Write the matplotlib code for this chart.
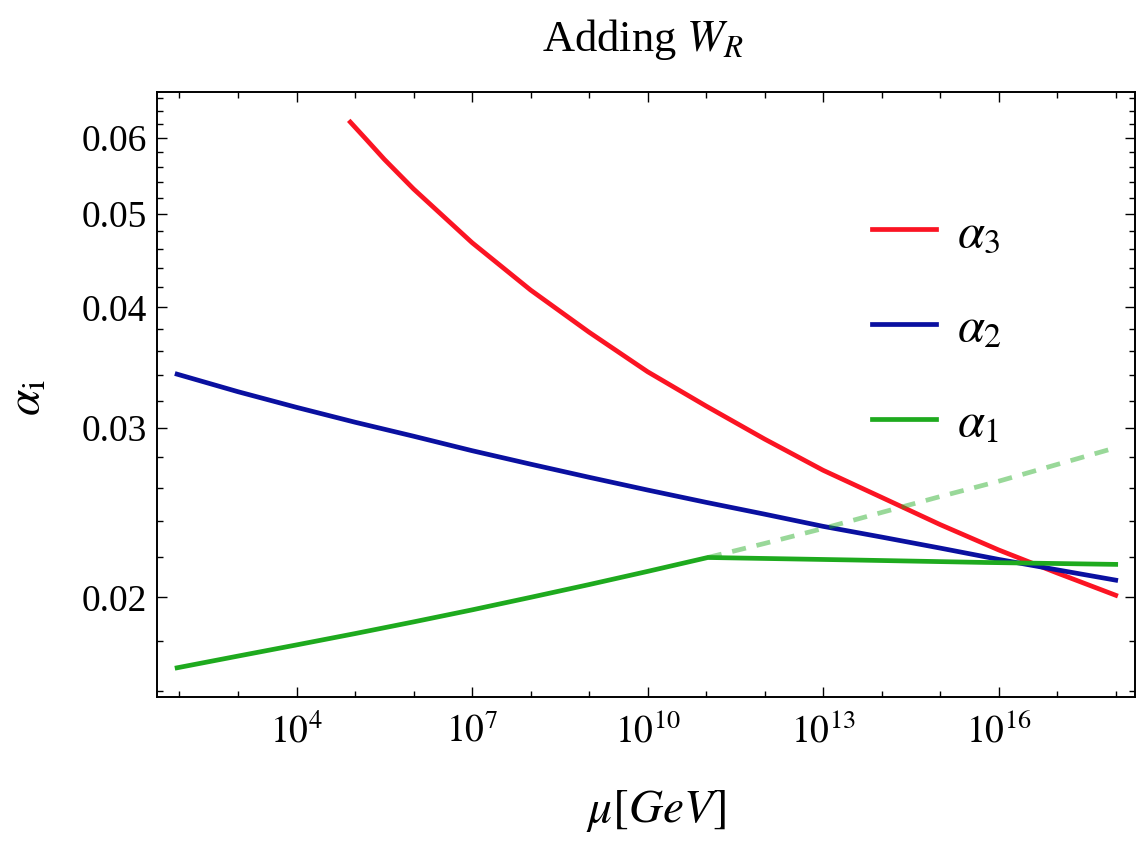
import numpy as np
import matplotlib
matplotlib.use('Agg')
import matplotlib.pyplot as plt
from matplotlib.ticker import FixedLocator, FixedFormatter, NullFormatter

plt.rcParams['font.family'] = ['Liberation Serif', 'DejaVu Serif']
plt.rcParams['mathtext.fontset'] = 'stix'

# values (log10 of mu in GeV, coupling alpha)
logmu_a3 = [4.92, 5.2, 5.5, 6, 7, 8, 9, 10, 11, 12, 13, 14, 15, 16, 17, 18]
alpha3 = [0.0623, 0.0597, 0.0570, 0.0531, 0.0467, 0.0417, 0.0377, 0.0343, 0.0316,
          0.0292, 0.0271, 0.0254, 0.0238, 0.0224, 0.0212, 0.0201]

logmu_a2 = [1.96, 3, 4, 5, 6, 7, 8, 9, 10, 11, 12, 13, 14, 15, 16, 17, 18]
alpha2 = [0.0341, 0.0327, 0.0315, 0.0304, 0.0294, 0.0284, 0.0275, 0.02665, 0.02585,
          0.0251, 0.0244, 0.0237, 0.0231, 0.0225, 0.0219, 0.02136, 0.02084]

logmu_a1 = [1.96, 3, 4, 5, 6, 7, 8, 9, 10, 11.03, 13.49, 15.77, 18]
alpha1 = [0.0169, 0.01738, 0.01785, 0.01834, 0.01886, 0.01941, 0.0200, 0.02062,
          0.02128, 0.0220, 0.02187, 0.02174, 0.02164]

# alpha1 without W_R (dashed)
logmu_a1_sm = [11.03, 12, 13, 14, 15, 16, 17, 18]
alpha1_sm = [0.0220, 0.02275, 0.02358, 0.0245, 0.02545, 0.0264, 0.02748, 0.0286]

x_major = [4, 7, 10, 13, 16]
y_major = [0.02, 0.03, 0.04, 0.05, 0.06]
y_labels = ['0.02', '0.03', '0.04', '0.05', '0.06']

red = '#fb1423'
blue = '#0a10a0'
green = '#1eaa1e'

fig = plt.figure(figsize=(11.46, 8.46), dpi=100)
ax = fig.add_axes([0.1367, 0.1758, 0.8537, 0.7151])

ax.plot(10.0 ** np.array(logmu_a3), alpha3, color=red, lw=3.4, label=r'$\alpha_3$')
ax.plot(10.0 ** np.array(logmu_a2), alpha2, color=blue, lw=3.4, label=r'$\alpha_2$')
ax.plot(10.0 ** np.array(logmu_a1), alpha1, color=green, lw=3.4, label=r'$\alpha_1$')
sm, = ax.plot(10.0 ** np.array(logmu_a1_sm), alpha1_sm, color=green, lw=3.4, alpha=0.45)
sm.set_dashes([3.0, 2.3])

ax.set_xscale('log')
ax.set_yscale('log')
ax.set_xlim(10 ** 1.61, 10 ** 18.33)
ax.set_ylim(0.01575, 0.0669)

ax.xaxis.set_major_locator(FixedLocator([10.0 ** e for e in x_major]))
ax.xaxis.set_major_formatter(FixedFormatter([r'$10^{%d}$' % e for e in x_major]))
ax.xaxis.set_minor_locator(FixedLocator([10.0 ** e for e in range(2, 19) if e not in x_major]))
ax.xaxis.set_minor_formatter(NullFormatter())

ax.yaxis.set_major_locator(FixedLocator(y_major))
ax.yaxis.set_major_formatter(FixedFormatter(y_labels))
y_minor = [round(0.016 + 0.002 * i, 3) for i in range(26)]
ax.yaxis.set_minor_locator(FixedLocator([v for v in y_minor if v not in y_major]))
ax.yaxis.set_minor_formatter(NullFormatter())

ax.tick_params(which='both', direction='in', top=True, right=True, width=1.0, colors='black')
ax.tick_params(which='major', length=7)
ax.tick_params(which='minor', length=4)
ax.tick_params(axis='y', labelsize=27, pad=7)
ax.tick_params(axis='x', labelsize=27, pad=12)
for s in ax.spines.values():
    s.set_linewidth(1.4)

leg = ax.legend(loc='upper left', bbox_to_anchor=(0.7312, 0.802), frameon=False, fontsize=35,
                handlelength=1.32, handletextpad=0.43, labelspacing=1.05, borderpad=0,
                borderaxespad=0)

fig.text(0.561, 0.953, r'Adding $W_R$', fontsize=32, ha='center', va='center')
fig.text(0.572, 0.041, r'$\mu[GeV]$', fontsize=34, ha='center', va='center')
fig.text(0.025, 0.530, r'$\alpha_{\rm i}$', fontsize=34, ha='center', va='center', rotation=90)

fig.savefig('out.png', dpi=100)
